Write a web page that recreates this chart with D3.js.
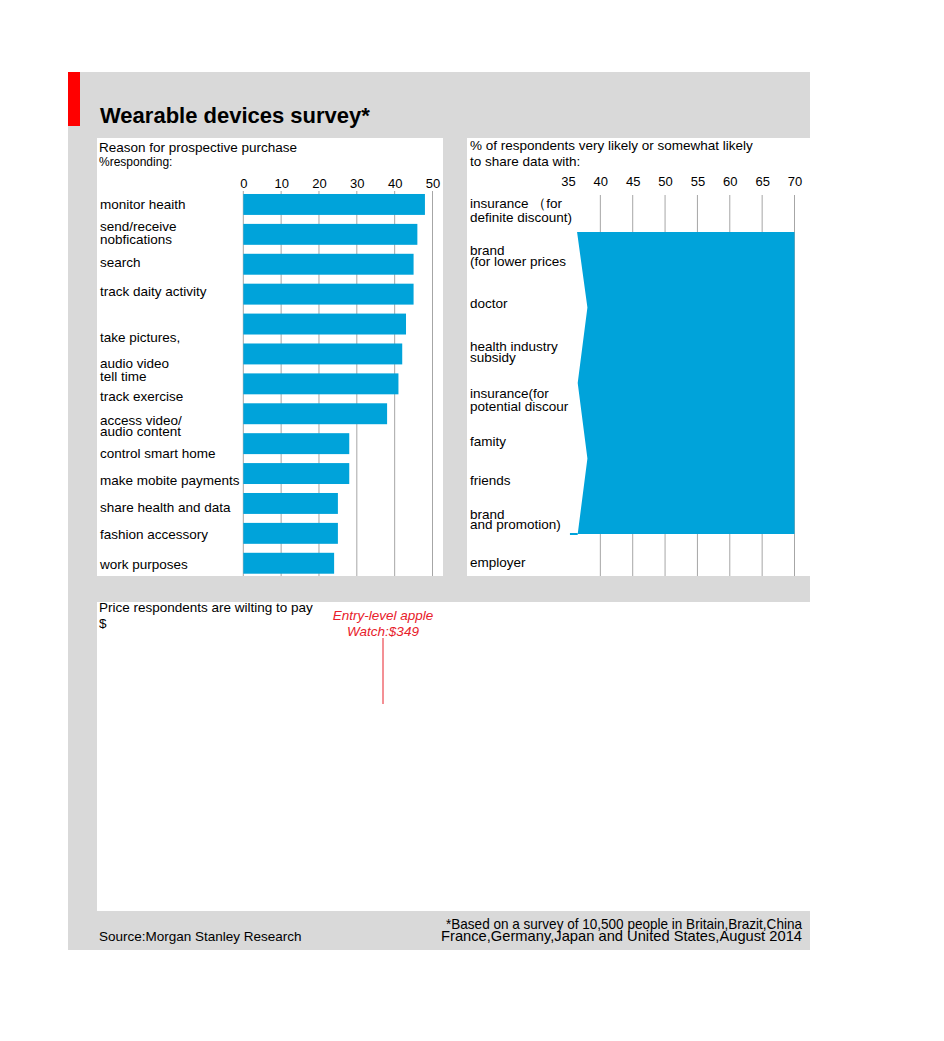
<!DOCTYPE html>
<html>
<head>
<meta charset="utf-8">
<script src="https://cdn.jsdelivr.net/npm/d3@7"></script>
<style>
  html, body { margin: 0; padding: 0; background: #ffffff; }
  svg { display: block; font-family: "Liberation Sans", Arial, sans-serif; }
</style>
</head>
<body>
<svg id="chart" width="944" height="1041"></svg>
<script>
// ---------- DATA ----------
const reasonCategories = [
  "monitor heaith",
  "send/receive|nobfications",
  "search",
  "track daity activity",
  "take pictures,|audio video",
  "tell time",
  "track exercise",
  "access video/|audio content",
  "control smart home",
  "make mobite payments",
  "share health and data",
  "fashion accessory",
  "work purposes"
];
const reasonValues = [48, 46, 45, 45, 43, 42, 41, 38, 28, 28, 25, 25, 24];
const reasonTicks = [0, 10, 20, 30, 40, 50];

const shareCategories = [
  "insurance （for|definite discount)",
  "brand|(for lower prices",
  "doctor",
  "health industry|subsidy",
  "insurance(for|potential discour",
  "famity",
  "friends",
  "brand|and promotion)",
  "employer"
];
const shareTicks = [35, 40, 45, 50, 55, 60, 65, 70];
const shareAreaLeft = [36.4, 38.0, 36.5, 38.0, 36.5];
const shareAreaRight = [70, 70, 70, 70, 70];

// ---------- LAYOUT (label placement tweaks, not data) ----------
const reasonLabelNudge = [0, -2, -2, -3, 26, 22, 12, 12, 10, 7, 4, 1, 1];
const reasonLineGap = [12, 13, 12, 12, 26, 12, 12, 11, 12, 12, 12, 12, 12];
const shareLabelNudge = [0, 1.5, 5, 10, 13.5, 11, 6, 1, 0];
const shareLineGap = [14, 11, 12, 11, 13, 12, 12, 10, 12];

const BLUE = "#00a3da";
const GRAY = "#d9d9d9";
const GRID = "#a6a6a6";

const svg = d3.select("#chart");

// background frame
svg.append("rect").attr("x", 68).attr("y", 72).attr("width", 742).attr("height", 878).attr("fill", GRAY);
svg.append("rect").attr("x", 68).attr("y", 72).attr("width", 12).attr("height", 54).attr("fill", "#ff0000");

svg.append("text").attr("x", 100).attr("y", 123)
  .attr("font-size", 22).attr("font-weight", "bold").attr("fill", "#000")
  .text("Wearable devices survey*");

// panels
svg.append("rect").attr("x", 97).attr("y", 138).attr("width", 346).attr("height", 438).attr("fill", "#fff");
svg.append("rect").attr("x", 467).attr("y", 138).attr("width", 343).attr("height", 438).attr("fill", "#fff");
svg.append("rect").attr("x", 97).attr("y", 602).attr("width", 713).attr("height", 309).attr("fill", "#fff");

function multiLine(g, str, x, yc, gap, size, anchor) {
  const lines = str.split("|");
  const t = g.append("text").attr("x", x).attr("font-size", size).attr("fill", "#000")
    .attr("text-anchor", anchor || "start");
  const start = yc - (lines.length - 1) * gap / 2;
  lines.forEach((l, i) => {
    t.append("tspan").attr("x", x).attr("y", start + i * gap).attr("dy", "0.35em").text(l);
  });
  return t;
}

// ---------- LEFT PANEL ----------
const left = svg.append("g");
left.append("text").attr("x", 99).attr("y", 152).attr("font-size", 13.5).text("Reason for prospective purchase");
left.append("text").attr("x", 99).attr("y", 166).attr("font-size", 12).text("%responding:");

const xL = d3.scaleLinear().domain([0, 50]).range([243.3, 432.5]);
const yL = d3.scaleBand().domain(reasonCategories).range([189.5, 578.2]).paddingInner(0.3).paddingOuter(0.15);

left.append("g").selectAll("line").data(reasonTicks).join("line")
  .attr("x1", d => xL(d)).attr("x2", d => xL(d))
  .attr("y1", 191).attr("y2", 576)
  .attr("stroke", GRID).attr("stroke-width", 1);

const axL = left.append("g").attr("transform", "translate(0,188)")
  .call(d3.axisTop(xL).tickValues(reasonTicks).tickSize(0).tickPadding(0));
axL.select(".domain").remove();
axL.selectAll("text").attr("font-size", 13).attr("font-family", "Liberation Sans, Arial, sans-serif").attr("fill", "#000").attr("dy", 0);

left.append("g").selectAll("rect").data(reasonValues).join("rect")
  .attr("x", xL(0))
  .attr("y", (d, i) => yL(reasonCategories[i]))
  .attr("width", d => xL(d) - xL(0))
  .attr("height", yL.bandwidth())
  .attr("fill", BLUE);

reasonCategories.forEach((c, i) => {
  const yc = yL(c) + yL.bandwidth() / 2 + reasonLabelNudge[i];
  multiLine(left, c, 100, yc, reasonLineGap[i], 13.5);
});

// ---------- RIGHT PANEL ----------
const right = svg.append("g");
right.append("text").attr("x", 470).attr("y", 150).attr("font-size", 13.5).text("% of respondents very likely or somewhat likely");
right.append("text").attr("x", 470).attr("y", 166).attr("font-size", 13.5).text("to share data with:");

const xR = d3.scaleLinear().domain([35, 70]).range([568, 794.5]);
const yRlab = d3.scalePoint().domain(shareCategories).range([210, 562]);
const yRarea = d3.scaleLinear().domain([0, shareAreaLeft.length - 1]).range([232, 534]);

right.append("g").selectAll("line").data(shareTicks.slice(1)).join("line")
  .attr("x1", d => xR(d)).attr("x2", d => xR(d))
  .attr("y1", 195).attr("y2", 576)
  .attr("stroke", GRID).attr("stroke-width", 1);

const axR = right.append("g").attr("transform", "translate(0,186)")
  .call(d3.axisTop(xR).tickValues(shareTicks).tickSize(0).tickPadding(0));
axR.select(".domain").remove();
axR.selectAll("text").attr("font-size", 13).attr("font-family", "Liberation Sans, Arial, sans-serif").attr("fill", "#000").attr("dy", 0);

const area = d3.area()
  .y((d, i) => yRarea(i))
  .x0(d => xR(d))
  .x1((d, i) => xR(shareAreaRight[i]))
  .curve(d3.curveLinear);
right.append("path").datum(shareAreaLeft).attr("d", area).attr("fill", BLUE);
// small tail at the bottom-left of the area
right.append("line")
  .attr("x1", xR(35.3)).attr("x2", xR(shareAreaLeft[shareAreaLeft.length - 1]))
  .attr("y1", yRarea(shareAreaLeft.length - 1)).attr("y2", yRarea(shareAreaLeft.length - 1))
  .attr("stroke", BLUE).attr("stroke-width", 2);

shareCategories.forEach((c, i) => {
  const yc = yRlab(c) + shareLabelNudge[i];
  multiLine(right, c, 470, yc, shareLineGap[i], 13.5);
});

// ---------- BOTTOM PANEL ----------
const bottom = svg.append("g");
bottom.append("text").attr("x", 99).attr("y", 612).attr("font-size", 13.5).text("Price respondents are wilting to pay");
bottom.append("text").attr("x", 99).attr("y", 628).attr("font-size", 13.5).text("$");
const ann = bottom.append("text").attr("font-size", 13.5).attr("font-style", "italic")
  .attr("fill", "#e8202a").attr("text-anchor", "middle");
ann.append("tspan").attr("x", 383).attr("y", 620).text("Entry-level apple");
ann.append("tspan").attr("x", 383).attr("y", 636).text("Watch:$349");
bottom.append("line").attr("x1", 383).attr("x2", 383).attr("y1", 638).attr("y2", 704)
  .attr("stroke", "#e8202a").attr("stroke-width", 1);

// ---------- FOOTER ----------
svg.append("text").attr("x", 99).attr("y", 941).attr("font-size", 13.5).text("Source:Morgan Stanley Research");
svg.append("text").attr("x", 446).attr("y", 929).attr("font-size", 15)
  .attr("textLength", 356).attr("lengthAdjust", "spacingAndGlyphs")
  .text("*Based on a survey of 10,500 people in Britain,Brazit,China");
svg.append("text").attr("x", 441).attr("y", 941).attr("font-size", 15)
  .attr("textLength", 361).attr("lengthAdjust", "spacingAndGlyphs")
  .text("France,Germany,Japan and United States,August 2014");
</script>
</body>
</html>
